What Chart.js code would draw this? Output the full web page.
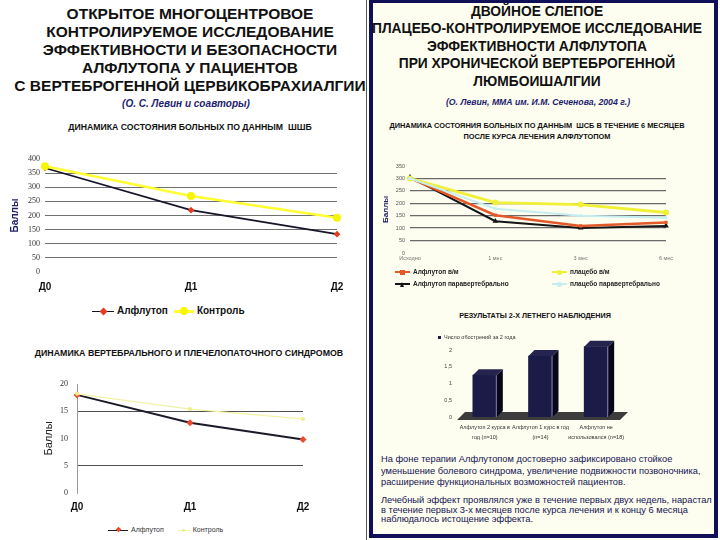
<!DOCTYPE html>
<html><head><meta charset="utf-8">
<script src="https://cdn.jsdelivr.net/npm/chart.js@4.4.0/dist/chart.umd.min.js"></script>
<style>
body{margin:0;width:720px;height:540px;position:relative;overflow:hidden;background:#fff;font-family:"Liberation Sans",Arial,sans-serif;}
.t{position:absolute;white-space:nowrap;text-align:center;font-weight:bold;color:#111;transform:translateX(-50%);}
canvas{position:absolute;}
.lg{position:absolute;white-space:nowrap;}
</style></head><body>
<div style="position:absolute;left:366px;top:0;width:1px;height:540px;background:#555"></div>
<div style="position:absolute;left:369px;top:0;width:349px;height:538px;box-sizing:border-box;border:4px solid #101058;border-top-width:3px;background:#fdfdf0"></div>

<div class="t" style="left:190px;top:5px;font-size:15.5px;line-height:18px">ОТКРЫТОЕ МНОГОЦЕНТРОВОЕ<br>КОНТРОЛИРУЕМОЕ ИССЛЕДОВАНИЕ<br>ЭФФЕКТИВНОСТИ И БЕЗОПАСНОСТИ<br>АЛФЛУТОПА У ПАЦИЕНТОВ<br>С ВЕРТЕБРОГЕННОЙ ЦЕРВИКОБРАХИАЛГИИ</div>
<div class="t" style="left:186px;top:98px;font-size:10px;font-style:italic;color:#1e1e6e">(О. С. Левин и соавторы)</div>

<div class="t" style="left:537px;top:3px;font-size:13.8px;line-height:17.4px">ДВОЙНОЕ СЛЕПОЕ<br>ПЛАЦЕБО-КОНТРОЛИРУЕМОЕ ИССЛЕДОВАНИЕ<br>ЭФФЕКТИВНОСТИ АЛФЛУТОПА<br>ПРИ ХРОНИЧЕСКОЙ ВЕРТЕБРОГЕННОЙ<br>ЛЮМБОИШАЛГИИ</div>
<div class="t" style="left:538px;top:97px;font-size:8.7px;font-style:italic;color:#1e1e6e">(О. Левин, ММА им. И.М. Сеченова, 2004 г.)</div>

<div class="t" style="left:190px;top:122px;font-size:8.7px">ДИНАМИКА СОСТОЯНИЯ БОЛЬНЫХ ПО ДАННЫМ&nbsp; ШШБ</div>
<div class="t" style="left:537px;top:120px;font-size:7.4px;line-height:11px">ДИНАМИКА СОСТОЯНИЯ БОЛЬНЫХ ПО ДАННЫМ&nbsp; ШСБ В ТЕЧЕНИЕ 6 МЕСЯЦЕВ<br>ПОСЛЕ КУРСА ЛЕЧЕНИЯ АЛФЛУТОПОМ</div>
<div class="t" style="left:189px;top:348px;font-size:8.8px">ДИНАМИКА ВЕРТЕБРАЛЬНОГО И ПЛЕЧЕЛОПАТОЧНОГО СИНДРОМОВ</div>
<div class="t" style="left:535px;top:311px;font-size:7.2px">РЕЗУЛЬТАТЫ 2-Х ЛЕТНЕГО НАБЛЮДЕНИЯ</div>

<canvas id="cA" width="370" height="162" style="left:0;top:140px"></canvas>
<canvas id="cB" width="370" height="150" style="left:0;top:370px"></canvas>
<canvas id="cC" width="340" height="125" style="left:374px;top:145px"></canvas>
<canvas id="cD" width="215" height="112" style="left:430px;top:335px"></canvas>

<div id="lgA" class="lg" style="left:92px;top:305px;font-size:10px;font-weight:bold;color:#111"></div>
<div id="lgB" class="lg" style="left:108px;top:526px;font-size:7px;color:#333"></div>
<div id="lgC" class="lg" style="left:0;top:0;font-size:6.5px;font-weight:bold;color:#222"></div>
<div id="lgD" class="lg" style="left:438px;top:334px;font-size:5.5px;color:#333"></div>

<div style="position:absolute;left:381px;top:454px;font-size:9.3px;line-height:11.5px;color:#141450;white-space:nowrap">На фоне терапии Алфлутопом достоверно зафиксировано стойкое<br>уменьшение болевого синдрома, увеличение подвижности позвоночника,<br>расширение функциональных возможностей пациентов.</div>
<div style="position:absolute;left:381px;top:496px;font-size:9.3px;line-height:9.6px;color:#141450;white-space:nowrap">Лечебный эффект проявлялся уже в течение первых двух недель, нарастал<br>в течение первых 3-х месяцев после курса лечения и к концу 6 месяца<br>наблюдалось истощение эффекта.</div>

<script>
// ---- data ----
const ssbCategories = ['Д0', 'Д1', 'Д2'];
const ssbSeriesNames = ['Алфлутоп', 'Контроль'];
const ssbAlflutop = [368, 219, 134];
const ssbControl = [374, 269, 192];
const ssbTicks = [0, 50, 100, 150, 200, 250, 300, 350, 400];

const vertCategories = ['Д0', 'Д1', 'Д2'];
const vertSeriesNames = ['Алфлутоп', 'Контроль'];
const vertAlflutop = [18.0, 12.9, 9.8];
const vertControl = [18.2, 15.4, 13.6];
const vertTicks = [0, 5, 10, 15, 20];

const monthCategories = ['Исходно', '1 мес', '3 мес', '6 мес'];
const monthSeriesNames = ['Алфлутоп в/м', 'плацебо в/м', 'Алфлутоп паравертебрально', 'плацебо паравертебрально'];
const alfIm = [301, 152, 109, 123];
const plcIm = [300, 203, 195, 163];
const alfPara = [305, 128, 101, 109];
const plcPara = [300, 178, 150, 142];
const monthTicks = [0, 50, 100, 150, 200, 250, 300, 350];

const followCategories = [['Алфлутоп 2 курса в', 'год (n=10)'], ['Алфлутоп 1 курс в год', '(n=14)'], ['Алфлутоп не', 'использовался (n=18)']];
const followSeriesName = 'Число обострений за 2 года';
const followValues = [1.25, 1.82, 2.1];
const followTicks = [0, 0.5, 1, 1.5, 2];

// ---- helpers ----
Chart.defaults.font.family = '"Liberation Sans", Arial, sans-serif';
Chart.defaults.animation = false;

function swatch(w, lineColor, lineW, markColor, shape, ms) {
  let st = `position:absolute;left:${w/2-ms/2}px;top:${-ms/2-lineW/2}px;`;
  let m = '';
  if (shape === 'diamond') m = `<span style="${st}width:${ms}px;height:${ms}px;background:${markColor};transform:rotate(45deg) scale(0.8)"></span>`;
  else if (shape === 'circle') m = `<span style="${st}width:${ms}px;height:${ms}px;background:${markColor};border-radius:50%"></span>`;
  else if (shape === 'square') m = `<span style="${st}width:${ms}px;height:${ms}px;background:${markColor}"></span>`;
  else if (shape === 'triangle') m = `<span style="${st}width:0;height:0;border-left:${ms/2}px solid transparent;border-right:${ms/2}px solid transparent;border-bottom:${ms}px solid ${markColor}"></span>`;
  return `<span style="position:relative;display:inline-block;width:${w}px;height:0;border-top:${lineW}px solid ${lineColor};vertical-align:middle;margin-right:3px">${m}</span>`;
}
function fixTicks(list) {
  return function (scale) { scale.ticks = list.filter(v => v >= scale.min && v <= scale.max).map(v => ({ value: v })); };
}
function gridExcept(skip, color) {
  return ctx => (ctx.tick && skip.includes(ctx.tick.value)) ? 'rgba(0,0,0,0)' : color;
}
const noGridX = { display: false, drawTicks: false };

// ---- chart A ----
new Chart(document.getElementById('cA'), {
  type: 'line',
  data: {
    labels: ssbCategories,
    datasets: [
      { label: ssbSeriesNames[1], data: ssbControl, borderColor: '#ffff33', borderWidth: 2.6, pointStyle: 'circle', pointRadius: 4, pointBorderWidth: 0, pointBackgroundColor: '#f6f600', tension: 0 },
      { label: ssbSeriesNames[0], data: ssbAlflutop, borderColor: '#15152a', borderWidth: 1.6, pointStyle: 'rectRot', pointRadius: 3.3, pointBorderWidth: 0, pointBackgroundColor: '#e83a20', tension: 0 }
    ]
  },
  options: {
    responsive: false,
    layout: { padding: { left: 5, top: 19, right: 33, bottom: 0 } },
    plugins: { legend: { display: false }, tooltip: { enabled: false } },
    scales: {
      x: {
        offset: false,
        afterFit: s => { s.height = 30; },
        grid: noGridX, border: { display: false },
        ticks: { padding: 9, font: { size: 10, weight: 'bold' }, color: '#111', maxRotation: 0, autoSkip: false }
      },
      y: {
        min: 0, max: 400,
        afterBuildTicks: fixTicks(ssbTicks),
        afterFit: s => { s.width = 40; },
        grid: { color: gridExcept([0, 400], '#707070'), lineWidth: 1, drawTicks: false },
        border: { display: false },
        ticks: { padding: 5, font: { size: 8, family: '"Liberation Serif", serif' }, color: '#333' },
        title: { display: true, text: 'Баллы', color: '#22226a', font: { size: 10, weight: 'bold' }, padding: { top: 4, bottom: 0 } }
      }
    }
  }
});
document.getElementById('lgA').innerHTML =
  swatch(22, '#15152a', 1.5, '#e83a20', 'diamond', 7) + ssbSeriesNames[0] +
  '<span style="display:inline-block;width:6px"></span>' +
  swatch(20, '#ffff33', 3, '#f6f600', 'circle', 8) + ssbSeriesNames[1];

// ---- chart B ----
new Chart(document.getElementById('cB'), {
  type: 'line',
  data: {
    labels: vertCategories,
    datasets: [
      { label: vertSeriesNames[1], data: vertControl, borderColor: '#f2f2a8', borderWidth: 1.2, pointStyle: 'circle', pointRadius: 2, pointBorderWidth: 0, pointBackgroundColor: '#eeee90', tension: 0 },
      { label: vertSeriesNames[0], data: vertAlflutop, borderColor: '#1a1a28', borderWidth: 2, pointStyle: 'rectRot', pointRadius: 3.5, pointBorderWidth: 0, pointBackgroundColor: '#ec4a2a', tension: 0 }
    ]
  },
  options: {
    responsive: false,
    layout: { padding: { left: 42, top: 14, right: 67, bottom: 0 } },
    plugins: { legend: { display: false }, tooltip: { enabled: false } },
    scales: {
      x: {
        offset: false,
        afterFit: s => { s.height = 27; },
        grid: noGridX, border: { display: false },
        ticks: { padding: 8, font: { size: 10, weight: 'bold' }, color: '#111', maxRotation: 0, autoSkip: false }
      },
      y: {
        min: 0, max: 20,
        afterBuildTicks: fixTicks(vertTicks),
        afterFit: s => { s.width = 35; },
        grid: { color: gridExcept([0, 10, 20], '#505050'), lineWidth: 1, drawTicks: false },
        border: { display: true, color: '#999', width: 1 },
        ticks: { padding: 9, font: { size: 8, family: '"Liberation Serif", serif' }, color: '#333' },
        title: { display: true, text: 'Баллы', color: '#222', font: { size: 11 }, padding: { top: 0, bottom: 0 } }
      }
    }
  }
});
document.getElementById('lgB').innerHTML =
  swatch(20, '#1a1a28', 1.5, '#ec4a2a', 'diamond', 5) + vertSeriesNames[0] +
  '<span style="display:inline-block;width:14px"></span>' +
  swatch(12, '#f2f2a8', 1, '#eeee90', 'circle', 3) + vertSeriesNames[1];

// ---- chart C ----
const cStyles = [
  { c: '#e35a2a', w: 2.5, p: 'rect', r: 2.3 },
  { c: '#f0f038', w: 2.8, p: 'circle', r: 3 },
  { c: '#151515', w: 2, p: 'triangle', r: 3.3 },
  { c: '#c4eef0', w: 2, p: 'circle', r: 1.8 }
];
const cData = [alfIm, plcIm, alfPara, plcPara];
const cOrder = [3, 1, 0, 2]; // drawing order (back to front)
new Chart(document.getElementById('cC'), {
  type: 'line',
  data: {
    labels: monthCategories,
    datasets: cOrder.map(i => ({
      label: monthSeriesNames[i], data: cData[i], borderColor: cStyles[i].c, borderWidth: cStyles[i].w,
      pointStyle: cStyles[i].p, pointRadius: cStyles[i].r, pointBorderWidth: 0, pointBackgroundColor: cStyles[i].c, tension: 0
    }))
  },
  options: {
    responsive: false,
    layout: { padding: { left: 4, top: 21, right: 48, bottom: 0 } },
    plugins: { legend: { display: false }, tooltip: { enabled: false } },
    scales: {
      x: {
        offset: false,
        afterFit: s => { s.height = 17; },
        grid: noGridX, border: { display: false },
        ticks: { padding: 2, font: { size: 5.5 }, color: '#777', maxRotation: 0, autoSkip: false }
      },
      y: {
        min: 0, max: 350,
        afterBuildTicks: fixTicks(monthTicks),
        afterFit: s => { s.width = 32; },
        grid: { color: gridExcept([0, 350], '#6a6a6a'), lineWidth: 1.3, drawTicks: false },
        border: { display: false },
        ticks: { padding: 5, font: { size: 5.5 }, color: '#555' },
        title: { display: true, text: 'Баллы', color: '#22226a', font: { size: 8, weight: 'bold' }, padding: { top: 3, bottom: 0 } }
      }
    }
  }
});
(function () {
  const pos = [[395, 268], [552, 268], [395, 280], [552, 280]];
  let html = '';
  for (let i = 0; i < 4; i++) {
    const st = cStyles[i];
    html += `<div style="position:absolute;left:${pos[i][0]}px;top:${pos[i][1]}px">` +
      swatch(15, st.c, 2, st.c, st.p === 'rect' ? 'square' : st.p, 5) + monthSeriesNames[i] + '</div>';
  }
  document.getElementById('lgC').innerHTML = html;
})();

// ---- chart D (3D-like bars) ----
const bar3d = {
  id: 'bar3d',
  beforeDatasetsDraw(chart) {
    const ctx = chart.ctx, a = chart.chartArea;
    const base = chart.scales.y.getPixelForValue(0);
    ctx.save();
    ctx.fillStyle = '#3c3c3c';
    ctx.beginPath();
    ctx.moveTo(a.left, base + 3);
    ctx.lineTo(a.right - 4, base + 3);
    ctx.lineTo(a.right + 4, base - 5);
    ctx.lineTo(a.left + 8, base - 5);
    ctx.closePath();
    ctx.fill();
    ctx.restore();
  },
  afterDatasetsDraw(chart) {
    const ctx = chart.ctx, d = 6;
    chart.getDatasetMeta(0).data.forEach(b => {
      const l = b.x - b.width / 2, r = b.x + b.width / 2, t = b.y, bo = b.base;
      ctx.save();
      ctx.fillStyle = '#24244e';
      ctx.beginPath();
      ctx.moveTo(l, t); ctx.lineTo(r, t); ctx.lineTo(r + d, t - d); ctx.lineTo(l + d, t - d); ctx.closePath(); ctx.fill();
      ctx.fillStyle = '#07071a';
      ctx.beginPath();
      ctx.moveTo(r, t); ctx.lineTo(r + d, t - d); ctx.lineTo(r + d, bo - d); ctx.lineTo(r, bo); ctx.closePath(); ctx.fill();
      ctx.strokeStyle = '#9a9ab8'; ctx.lineWidth = 0.8;
      ctx.beginPath(); ctx.moveTo(r - 0.5, t); ctx.lineTo(r - 0.5, bo); ctx.stroke();
      ctx.restore();
    });
  }
};
new Chart(document.getElementById('cD'), {
  type: 'bar',
  data: {
    labels: followCategories,
    datasets: [{ label: followSeriesName, data: followValues, backgroundColor: '#1b1b48', borderWidth: 0, barThickness: 24 }]
  },
  options: {
    responsive: false,
    layout: { padding: { left: 0, top: 5, right: 21, bottom: 0 } },
    plugins: { legend: { display: false }, tooltip: { enabled: false } },
    scales: {
      x: {
        afterFit: s => { s.height = 30; },
        grid: noGridX, border: { display: false },
        ticks: { padding: 6, font: { size: 5.5, lineHeight: 1.7 }, color: '#333', maxRotation: 0, autoSkip: false }
      },
      y: {
        min: 0, max: 2.2,
        afterBuildTicks: fixTicks(followTicks),
        afterFit: s => { s.width = 27; },
        grid: { display: false, drawTicks: false }, border: { display: false },
        ticks: { padding: 5, font: { size: 5.5 }, color: '#444', callback: v => String(v).replace('.', ',') }
      }
    }
  },
  plugins: [bar3d]
});
document.getElementById('lgD').innerHTML =
  '<span style="display:inline-block;width:3px;height:3px;background:#1b1b48;vertical-align:middle;margin-right:3px"></span>' + followSeriesName;
</script>
</body></html>
